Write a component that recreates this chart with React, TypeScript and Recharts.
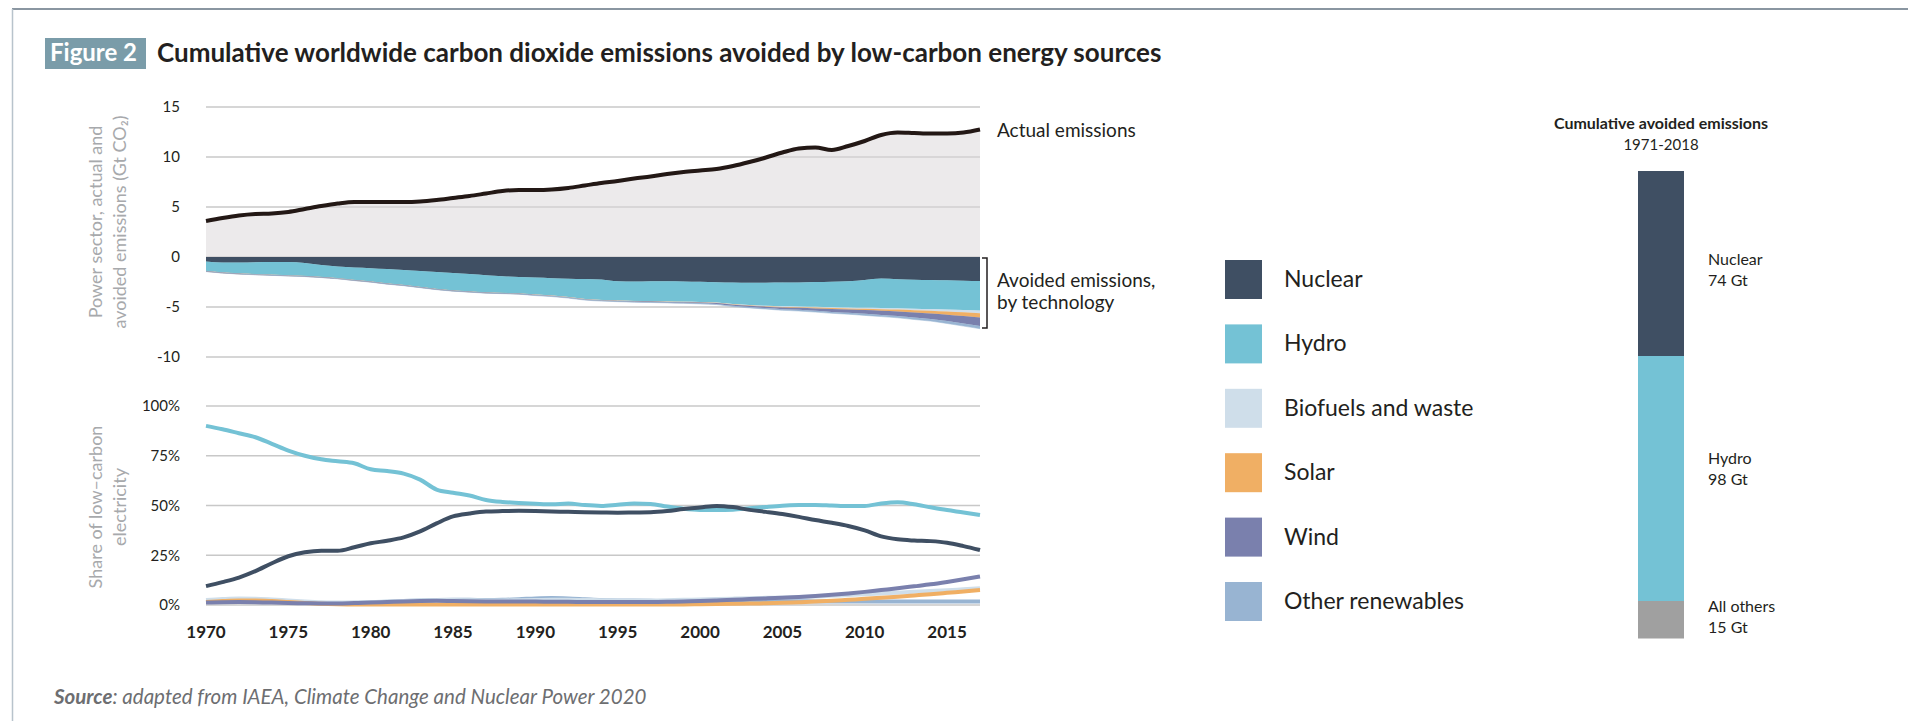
import React from 'react';
import {
  ComposedChart,
  Area,
  Line,
  XAxis,
  YAxis,
  CartesianGrid,
  BarChart,
  Bar,
  LabelList,
} from 'recharts';

const FONT = 'Lato, "Noto Sans", "DejaVu Sans", sans-serif';
const TEXT = '#231f20';
const GRID = '#c8c8c8';

// ---------- data ----------
const years = [
  1970, 1971, 1972, 1973, 1974, 1975, 1976, 1977, 1978, 1979,
  1980, 1981, 1982, 1983, 1984, 1985, 1986, 1987, 1988, 1989,
  1990, 1991, 1992, 1993, 1994, 1995, 1996, 1997, 1998, 1999,
  2000, 2001, 2002, 2003, 2004, 2005, 2006, 2007, 2008, 2009,
  2010, 2011, 2012, 2013, 2014, 2015, 2016, 2017,
];
const xTicks = [1970, 1975, 1980, 1985, 1990, 1995, 2000, 2005, 2010, 2015];
const topTicks = [-10, -5, 0, 5, 10, 15];
const shareTicks = [0, 25, 50, 75, 100];

// Power sector actual emissions (Gt CO2)
const actualEmissions = [
  3.6, 3.9, 4.15, 4.3, 4.35, 4.5, 4.8, 5.1, 5.35, 5.5,
  5.5, 5.5, 5.5, 5.55, 5.7, 5.9, 6.1, 6.35, 6.6, 6.7,
  6.7, 6.75, 6.9, 7.15, 7.4, 7.6, 7.85, 8.05, 8.3, 8.5,
  8.65, 8.8, 9.1, 9.5, 9.95, 10.45, 10.85, 10.95, 10.7, 11.1,
  11.6, 12.2, 12.45, 12.4, 12.35, 12.35, 12.45, 12.75,
];
// Avoided emissions by technology (Gt CO2, shown below zero)
const nuclearGt = [
  0.44, 0.55, 0.55, 0.52, 0.5, 0.5, 0.6, 0.8, 0.95, 1.05,
  1.12, 1.2, 1.3, 1.4, 1.5, 1.6, 1.7, 1.82, 1.92, 2.0,
  2.05, 2.12, 2.17, 2.2, 2.25, 2.42, 2.45, 2.42, 2.42, 2.45,
  2.48, 2.52, 2.55, 2.57, 2.57, 2.56, 2.54, 2.5, 2.47, 2.42,
  2.3, 2.15, 2.22, 2.27, 2.3, 2.33, 2.37, 2.4,
];
const hydroGt = [
  0.96, 1.0, 1.1, 1.2, 1.28, 1.34, 1.3, 1.2, 1.17, 1.25,
  1.33, 1.45, 1.5, 1.6, 1.7, 1.75, 1.75, 1.73, 1.68, 1.65,
  1.7, 1.73, 1.83, 2.0, 2.05, 1.93, 1.95, 2.0, 2.03, 2.03,
  2.02, 2.03, 2.15, 2.23, 2.31, 2.37, 2.41, 2.48, 2.55, 2.63,
  2.78, 2.95, 2.91, 2.9, 2.9, 2.92, 2.93, 2.95,
];
const biofuelsGt = [
  0.03, 0.03, 0.03, 0.03, 0.03, 0.03, 0.03, 0.03, 0.03, 0.03,
  0.03, 0.03, 0.03, 0.03, 0.03, 0.03, 0.03, 0.03, 0.03, 0.03,
  0.04, 0.04, 0.04, 0.04, 0.04, 0.04, 0.04, 0.04, 0.04, 0.04,
  0.05, 0.05, 0.06, 0.06, 0.06, 0.07, 0.07, 0.08, 0.09, 0.09,
  0.1, 0.12, 0.13, 0.15, 0.17, 0.2, 0.23, 0.27,
];
const solarGt = [
  0, 0, 0, 0, 0, 0, 0, 0, 0, 0,
  0, 0, 0, 0, 0, 0, 0, 0, 0, 0,
  0, 0, 0, 0, 0, 0, 0, 0, 0, 0,
  0.01, 0.01, 0.02, 0.02, 0.03, 0.05, 0.06, 0.08, 0.1, 0.11,
  0.13, 0.16, 0.19, 0.23, 0.27, 0.32, 0.38, 0.44,
];
const windGt = [
  0.01, 0.01, 0.01, 0.01, 0.01, 0.01, 0.01, 0.01, 0.01, 0.01,
  0.01, 0.01, 0.01, 0.01, 0.01, 0.01, 0.01, 0.01, 0.01, 0.01,
  0.02, 0.02, 0.02, 0.02, 0.02, 0.03, 0.03, 0.04, 0.05, 0.06,
  0.07, 0.08, 0.1, 0.12, 0.14, 0.17, 0.2, 0.24, 0.28, 0.32,
  0.37, 0.41, 0.45, 0.5, 0.55, 0.64, 0.74, 0.84,
];
const otherGt = [
  0.02, 0.02, 0.02, 0.02, 0.02, 0.02, 0.02, 0.02, 0.02, 0.02,
  0.03, 0.03, 0.03, 0.03, 0.03, 0.03, 0.03, 0.03, 0.03, 0.03,
  0.05, 0.05, 0.05, 0.05, 0.05, 0.05, 0.05, 0.05, 0.05, 0.05,
  0.06, 0.07, 0.08, 0.09, 0.1, 0.11, 0.12, 0.13, 0.14, 0.15,
  0.16, 0.17, 0.18, 0.2, 0.22, 0.24, 0.26, 0.27,
];

// Share of low-carbon electricity (%)
const hydroShare = [
  90, 88.3, 86.3, 84.3, 81, 77.6, 75, 73.2, 72.2, 71.2,
  68.2, 67.3, 66, 63, 58, 56.4, 55, 52.8, 51.8, 51.3,
  50.9, 50.6, 51, 50.2, 49.8, 50.4, 51, 50.8, 49.5, 48.4,
  47.8, 47.7, 47.9, 48.6, 49.3, 49.9, 50.2, 50.3, 50, 49.7,
  49.8, 51, 51.6, 50.6, 49.1, 47.7, 46.5, 45.2,
];
const nuclearShare = [
  9.5, 11.5, 13.8, 17, 21, 24.5, 26.5, 27.3, 27.3, 29,
  31, 32.3, 34, 37, 41, 44.5, 46, 47, 47.2, 47.3,
  47.2, 47, 46.8, 46.6, 46.5, 46.4, 46.5, 46.6, 47.2, 48.2,
  49, 49.8, 49.2, 47.8, 46.8, 45.7, 44.3, 42.7, 41.3, 39.7,
  37.5, 34.5, 33, 32.4, 32.1, 31.3, 29.6, 27.6,
];
const biofuelsShare = [
  2.5, 3.0, 3.3, 3.2, 2.8, 2.3, 1.8, 1.4, 1.2, 1.2,
  1.4, 1.7, 2.0, 2.3, 2.5, 2.5, 2.4, 2.3, 2.3, 2.4,
  2.5, 2.6, 2.6, 2.5, 2.4, 2.3, 2.3, 2.3, 2.4, 2.6,
  2.8, 3.0, 3.2, 3.4, 3.6, 3.8, 4.0, 4.3, 4.6, 5.0,
  5.4, 5.8, 6.2, 6.6, 7.0, 7.4, 7.9, 8.4,
];
const solarShare = [
  1.5, 2.0, 2.3, 2.3, 2.0, 1.5, 1.0, 0.6, 0.4, 0.3,
  0.3, 0.3, 0.3, 0.3, 0.3, 0.3, 0.3, 0.3, 0.3, 0.3,
  0.3, 0.3, 0.3, 0.3, 0.3, 0.3, 0.3, 0.3, 0.3, 0.3,
  0.4, 0.5, 0.6, 0.7, 0.9, 1.1, 1.4, 1.7, 2.1, 2.6,
  3.1, 3.7, 4.2, 4.8, 5.4, 6.1, 6.8, 7.5,
];
const windShare = [
  1.2, 1.4, 1.5, 1.4, 1.2, 1.0, 0.9, 0.8, 0.8, 1.0,
  1.2, 1.5, 1.8, 2.0, 2.1, 2.0, 1.9, 1.8, 1.7, 1.7,
  1.7, 1.6, 1.6, 1.5, 1.5, 1.5, 1.5, 1.5, 1.6, 1.8,
  2.0, 2.3, 2.6, 3.0, 3.3, 3.6, 4.0, 4.5, 5.1, 5.8,
  6.6, 7.5, 8.4, 9.4, 10.4, 11.6, 12.9, 14.3,
];
const otherShare = [
  1.5, 1.7, 1.8, 1.8, 1.6, 1.4, 1.2, 1.0, 1.0, 1.1,
  1.3, 1.6, 2.0, 2.3, 2.5, 2.6, 2.6, 2.5, 2.6, 2.9,
  3.3, 3.5, 3.3, 2.9, 2.5, 2.3, 2.2, 2.1, 2.0, 2.0,
  2.0, 1.9, 1.9, 1.9, 1.9, 1.9, 1.9, 1.8, 1.8, 1.8,
  1.8, 1.8, 1.8, 1.8, 1.7, 1.7, 1.7, 1.7,
];

// Cumulative avoided emissions 1971-2018 (Gt), bottom to top
const cumKeys = ['others', 'hydro', 'nuclear'];
const cumNames = ['All others', 'Hydro', 'Nuclear'];
const cumValues = [15, 98, 74];

const legendNames = ['Nuclear', 'Hydro', 'Biofuels and waste', 'Solar', 'Wind', 'Other renewables'];

// ---------- styles ----------
const C = {
  nuclear: '#3F4F63',
  hydro: '#74C2D5',
  biofuels: '#CFDEEA',
  solar: '#F0AF64',
  wind: '#7A80AD',
  other: '#98B4D2',
  actual: '#231815',
  allOthers: '#A0A0A0',
};
const legendColors = [C.nuclear, C.hydro, C.biofuels, C.solar, C.wind, C.other];
const cumColors = [C.allOthers, C.hydro, C.nuclear];
const cumLabelShift = [-8, -15, 1];

// ---------- rows ----------
const topRows = years.map((year, i) => ({
  year,
  actual: actualEmissions[i],
  nuclear: -nuclearGt[i],
  hydro: -hydroGt[i],
  biofuels: -biofuelsGt[i],
  solar: -solarGt[i],
  wind: -windGt[i],
  other: -otherGt[i],
}));
const shareRows = years.map((year, i) => ({
  year,
  hydro: hydroShare[i],
  nuclear: nuclearShare[i],
  biofuels: biofuelsShare[i],
  solar: solarShare[i],
  wind: windShare[i],
  other: otherShare[i],
}));
const cumRow: Record<string, any> = { name: '1971-2018' };
cumKeys.forEach((k, i) => {
  cumRow[k] = cumValues[i];
});
const cumTotal = cumValues.reduce((a, b) => a + b, 0);

const tickStyle = { fontSize: 15, fill: TEXT, fontFamily: FONT };

const stackOrder: { key: string; color: string }[] = [
  { key: 'nuclear', color: C.nuclear },
  { key: 'hydro', color: C.hydro },
  { key: 'biofuels', color: C.biofuels },
  { key: 'solar', color: C.solar },
  { key: 'wind', color: C.wind },
  { key: 'other', color: C.other },
];

const lineOrder: { key: string; color: string }[] = [
  { key: 'other', color: C.other },
  { key: 'biofuels', color: C.biofuels },
  { key: 'solar', color: C.solar },
  { key: 'wind', color: C.wind },
  { key: 'hydro', color: C.hydro },
  { key: 'nuclear', color: C.nuclear },
];

function makeCumLabel(i: number) {
  return (props: any) => {
    const x = Number(props.x);
    const y = Number(props.y);
    const w = Number(props.width);
    const h = Number(props.height);
    const cy = y + h / 2 + cumLabelShift[i];
    return (
      <g>
        <text x={x + w + 24} y={cy} fontSize={16} fill={TEXT} fontFamily={FONT}>
          {cumNames[i]}
        </text>
        <text x={x + w + 24} y={cy + 21} fontSize={16} fill={TEXT} fontFamily={FONT}>
          {`${cumValues[i]} Gt`}
        </text>
      </g>
    );
  };
}

export default function App() {
  return (
    <div
      style={{
        position: 'absolute',
        left: 0,
        top: 0,
        width: 1908,
        height: 721,
        background: '#fff',
        fontFamily: FONT,
        overflow: 'hidden',
      }}
    >
      {/* Static text & decorations */}
      <svg width={1908} height={721} style={{ position: 'absolute', left: 0, top: 0 }} fontFamily={FONT}>
        <line x1={12} y1={9} x2={1908} y2={9} stroke="#8a96a1" strokeWidth={2} />
        <line x1={12.5} y1={9} x2={12.5} y2={721} stroke="#b8c3cc" strokeWidth={1.5} />
        <rect x={45} y={38} width={101} height={31} fill="#7A9CA9" />
        <text x={50} y={61} fill="#ffffff" fontWeight={700} fontSize={24}>
          Figure 2
        </text>
        <text x={157} y={62} fill={TEXT} fontWeight={700} fontSize={26}>
          Cumulative worldwide carbon dioxide emissions avoided by low-carbon energy sources
        </text>

        {/* Y axis titles */}
        <text transform="translate(102,222) rotate(-90)" textAnchor="middle" fill="#a7a9ac" fontSize={18}>
          Power sector, actual and
        </text>
        <text transform="translate(126,222) rotate(-90)" textAnchor="middle" fill="#a7a9ac" fontSize={18}>
          avoided emissions (Gt CO₂)
        </text>
        <text transform="translate(102,507) rotate(-90)" textAnchor="middle" fill="#a7a9ac" fontSize={18}>
          Share of low–carbon
        </text>
        <text transform="translate(126,507) rotate(-90)" textAnchor="middle" fill="#a7a9ac" fontSize={18}>
          electricity
        </text>

        {/* Annotations for top chart */}
        <text x={997} y={137} fill={TEXT} fontSize={19}>
          Actual emissions
        </text>
        <path d="M982 258 H987 V328 H982" fill="none" stroke={TEXT} strokeWidth={1.5} />
        <text x={997} y={287} fill={TEXT} fontSize={19}>
          Avoided emissions,
        </text>
        <text x={997} y={309} fill={TEXT} fontSize={19}>
          by technology
        </text>

        {/* Legend */}
        {legendNames.map((name, i) => (
          <g key={name}>
            <rect x={1225} y={260 + i * 64.4} width={37} height={39} fill={legendColors[i]} />
            <text x={1284} y={287 + i * 64.4} fontSize={23} fill={TEXT}>
              {name}
            </text>
          </g>
        ))}

        {/* Cumulative bar title */}
        <text x={1661} y={129} textAnchor="middle" fontWeight={700} fontSize={16} fill={TEXT}>
          Cumulative avoided emissions
        </text>
        <text x={1661} y={150} textAnchor="middle" fontSize={15} fill={TEXT}>
          {cumRow.name}
        </text>

        {/* Source */}
        <text x={54} y={704} fontStyle="italic" fontSize={20.5} fill="#6d6e71">
          <tspan fontWeight={700}>Source</tspan>: adapted from IAEA, Climate Change and Nuclear Power 2020
        </text>
      </svg>

      {/* Top chart: actual and avoided emissions */}
      <div style={{ position: 'absolute', left: 0, top: 0 }}>
        <ComposedChart
          width={1000}
          height={375}
          data={topRows}
          margin={{ top: 107, right: 20, bottom: 18, left: 146 }}
        >
          <CartesianGrid vertical={false} stroke={GRID} strokeWidth={1.5} />
          <XAxis type="number" dataKey="year" domain={[1970, 2017]} hide />
          <YAxis
            type="number"
            domain={[-10, 15]}
            ticks={topTicks}
            width={60}
            axisLine={false}
            tickLine={false}
            tickSize={0}
            tickMargin={26}
            tick={tickStyle}
            interval={0}
          />
          <Area
            type="monotone"
            dataKey="actual"
            fill="#D9D5D7"
            fillOpacity={0.5}
            stroke={C.actual}
            strokeWidth={4}
            isAnimationActive={false}
            dot={false}
            activeDot={false}
          />
          {stackOrder.map((s) => (
            <Area
              key={s.key}
              type="monotone"
              dataKey={s.key}
              stackId="avoided"
              fill={s.color}
              fillOpacity={1}
              stroke={s.color}
              strokeWidth={0.5}
              isAnimationActive={false}
              dot={false}
              activeDot={false}
            />
          ))}
        </ComposedChart>
      </div>

      {/* Bottom chart: share of low-carbon electricity */}
      <div style={{ position: 'absolute', left: 0, top: 0 }}>
        <ComposedChart
          width={1000}
          height={650}
          data={shareRows}
          margin={{ top: 406, right: 20, bottom: 5, left: 146 }}
        >
          <CartesianGrid vertical={false} stroke={GRID} strokeWidth={1.5} />
          <XAxis
            type="number"
            dataKey="year"
            domain={[1970, 2017]}
            ticks={xTicks}
            interval={0}
            height={40}
            axisLine={false}
            tickLine={false}
            tickSize={0}
            tickMargin={21}
            tick={{ fontSize: 17, fontWeight: 700, fill: TEXT, fontFamily: FONT }}
          />
          <YAxis
            type="number"
            domain={[0, 100]}
            ticks={shareTicks}
            width={60}
            axisLine={false}
            tickLine={false}
            tickSize={0}
            tickMargin={26}
            tick={tickStyle}
            interval={0}
            tickFormatter={(v: number) => `${v}%`}
          />
          {lineOrder.map((s) => (
            <Line
              key={s.key}
              type="monotone"
              dataKey={s.key}
              stroke={s.color}
              strokeWidth={4}
              dot={false}
              activeDot={false}
              isAnimationActive={false}
            />
          ))}
        </ComposedChart>
      </div>

      {/* Cumulative avoided emissions bar */}
      <div style={{ position: 'absolute', left: 1611, top: 0 }}>
        <BarChart
          width={200}
          height={640}
          data={[cumRow]}
          margin={{ top: 171, right: 100, bottom: 1.5, left: 0 }}
        >
          <XAxis dataKey="name" type="category" hide />
          <YAxis type="number" domain={[0, cumTotal]} hide />
          {cumKeys.map((k, i) => (
            <Bar key={k} dataKey={k} stackId="cum" fill={cumColors[i]} barSize={46} isAnimationActive={false}>
              <LabelList dataKey={k} content={makeCumLabel(i)} />
            </Bar>
          ))}
        </BarChart>
      </div>
    </div>
  );
}
